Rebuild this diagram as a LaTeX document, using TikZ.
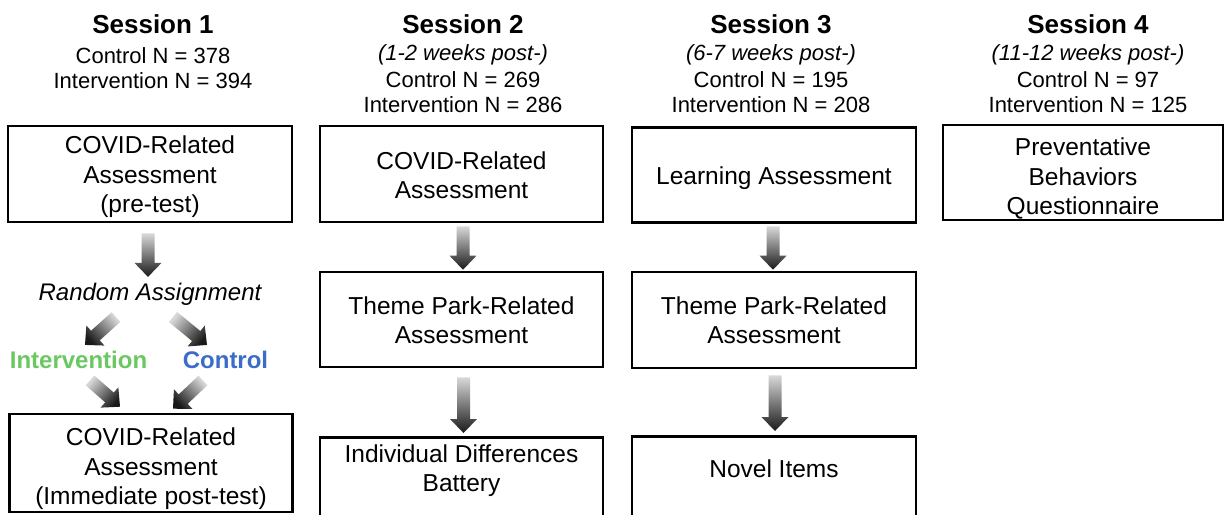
\documentclass[tikz,border=0pt]{standalone}
\usepackage{fontspec}
\setmainfont{Liberation Sans}
\usetikzlibrary{calc}

\definecolor{intgreen}{RGB}{106,200,96}
\definecolor{ctlblue}{RGB}{58,108,200}

% geometry of the shaded block arrows (in pt)
\newcommand\arHead{14}
\newcommand\arShaft{6.5}
\newcommand\arWing{13.5}

% shaded block arrow from tail #1 to tip #2
\newcommand\blockarrow[2]{%
  \path #1; \pgfgetlastxy{\baAx}{\baAy}%
  \path #2; \pgfgetlastxy{\baBx}{\baBy}%
  \pgfmathsetmacro\baXa{\baAx}\pgfmathsetmacro\baYa{\baAy}%
  \pgfmathsetmacro\baXb{\baBx}\pgfmathsetmacro\baYb{\baBy}%
  \pgfmathsetmacro\baDir{atan2(\baYb-\baYa,\baXb-\baXa)}%
  \pgfmathsetmacro\baLen{veclen(\baXb-\baXa,\baYb-\baYa)}%
  \pgfmathsetmacro\baUx{cos(\baDir)}%
  \pgfmathsetmacro\baUy{sin(\baDir)}%
  \pgfmathsetmacro\baXm{\baXa+(\baLen-\arHead)*\baUx}%
  \pgfmathsetmacro\baYm{\baYa+(\baLen-\arHead)*\baUy}%
  \pgfmathsetmacro\baSh{\baDir+90}%
  \shade[arrowshade, shading angle=\baSh]
    ({(\baXa-\arShaft*\baUy)*1pt},{(\baYa+\arShaft*\baUx)*1pt})
    -- ({(\baXm-\arShaft*\baUy)*1pt},{(\baYm+\arShaft*\baUx)*1pt})
    -- ({(\baXm-\arWing*\baUy)*1pt},{(\baYm+\arWing*\baUx)*1pt})
    -- ({\baXb*1pt},{\baYb*1pt})
    -- ({(\baXm+\arWing*\baUy)*1pt},{(\baYm-\arWing*\baUx)*1pt})
    -- ({(\baXm+\arShaft*\baUy)*1pt},{(\baYm-\arShaft*\baUx)*1pt})
    -- ({(\baXa+\arShaft*\baUy)*1pt},{(\baYa-\arShaft*\baUx)*1pt})
    -- cycle;%
}

\tikzset{
  box/.style={draw=black, line width=2.6pt, minimum width=283pt,
    minimum height=96pt, inner sep=0pt},
  boxtext/.style={inner sep=0pt, align=center,
    font=\fontsize{24.5}{29.5}\selectfont},
  sesstitle/.style={anchor=base, inner sep=0pt,
    font=\fontsize{26}{30}\selectfont\bfseries},
  sessinfo/.style={anchor=base, inner sep=0pt,
    font=\fontsize{22}{26}\selectfont},
  sesswhen/.style={anchor=base, inner sep=0pt,
    font=\fontsize{22}{26}\selectfont\itshape},
  grouplabel/.style={anchor=base, inner sep=0pt,
    font=\fontsize{24}{28}\selectfont\bfseries},
  arrowshade/.style={top color=black!15, bottom color=black!90},
}

\begin{document}
\begin{tikzpicture}[x=1pt, y=-1pt]
  \fill[white] (0,0) rectangle (1225,514);
  \useasboundingbox (0,0) rectangle (1225,514);

  % ---- Session 1 ----
  \node[sesstitle] (s1-title) at (153,33) {Session 1};
  \node[sessinfo]  (s1-ctl)   at (153,63) {Control N = 378};
  \node[sessinfo]  (s1-int)   at (153,88) {Intervention N = 394};

  \node[box, minimum width=284pt] (b1a) at (150,174) {};
  \node[boxtext] (b1a-text) at ([yshift=-3pt]b1a.center)
    {COVID-Related\\Assessment\\(pre-test)};
  \node[anchor=base, inner sep=0pt, font=\fontsize{24}{28}\selectfont\itshape]
    (ra) at (150,300) {Random Assignment};
  \node[grouplabel, text=intgreen] (int) at (78.5,368) {Intervention};
  \node[grouplabel, text=ctlblue]  (ctl) at (225.5,368) {Control};
  \node[box, minimum height=98pt] (b1b) at (151,463) {};
  \node[boxtext] (b1b-text) at ([yshift=-6pt]b1b.center)
    {COVID-Related\\Assessment\\(Immediate post-test)};

  \blockarrow{($(b1a.south)+(-2,10)$)}{($(ra.north)+(-2,-5.5)$)}
  \blockarrow{($(ra.base)+(-34,17)$)}{($(int.north)+(6.5,-5.5)$)}
  \blockarrow{($(ra.base)+(23,17)$)}{($(ctl.north)+(-18.5,-5.5)$)}
  \blockarrow{($(int.south)+(11.5,12)$)}{($(b1b.north)+(-31,-6)$)}
  \blockarrow{($(ctl.south)+(-22.5,12)$)}{($(b1b.north)+(22,-4)$)}

  % ---- Session 2 ----
  \node[sesstitle] (s2-title) at (463,33) {Session 2};
  \node[sesswhen]  (s2-when)  at (463,60) {(1-2 weeks post-)};
  \node[sessinfo]  (s2-ctl)   at (463,87) {Control N = 269};
  \node[sessinfo]  (s2-int)   at (463,112) {Intervention N = 286};

  \node[box] (b2a) at (461.5,174) {};
  \node[boxtext] (b2a-text) at ([yshift=-1pt]b2a.center)
    {COVID-Related\\Assessment};
  \node[box, minimum height=95pt] (b2b) at (461.5,319.5) {};
  \node[boxtext] (b2b-text) at ([yshift=-0.5pt]b2b.center)
    {Theme Park-Related\\Assessment};
  \node[box, anchor=north] (b2c) at (461.5,436) {};
  \node[boxtext] (b2c-text) at ([yshift=-34.5pt]b2c.north)
    {Individual Differences\\Battery};

  \blockarrow{($(b2a.south)+(1.5,3)$)}{($(b2b.north)+(1.5,-1)$)}
  \blockarrow{($(b2b.south)+(2,9)$)}{($(b2c.north)+(2,-3)$)}

  % ---- Session 3 ----
  \node[sesstitle] (s3-title) at (771,33) {Session 3};
  \node[sesswhen]  (s3-when)  at (771,60) {(6-7 weeks post-)};
  \node[sessinfo]  (s3-ctl)   at (771,87) {Control N = 195};
  \node[sessinfo]  (s3-int)   at (771,112) {Intervention N = 208};

  \node[box, minimum width=284pt, minimum height=95pt] (b3a) at (774,175) {};
  \node[boxtext] (b3a-text) at ([yshift=-3.5pt]b3a.center)
    {Learning Assessment};
  \node[box, minimum width=284pt] (b3b) at (774,320) {};
  \node[boxtext] (b3b-text) at (b3b.center)
    {Theme Park-Related\\Assessment};
  \node[box, minimum width=284pt, anchor=north] (b3c) at (774,435) {};
  \node[boxtext] (b3c-text) at ([yshift=-34pt]b3c.north) {Novel Items};

  \blockarrow{($(b3a.south)+(-1,2.5)$)}{($(b3b.north)+(-1,-1)$)}
  \blockarrow{($(b3b.south)+(1,6)$)}{($(b3c.north)+(1,-4)$)}

  % ---- Session 4 ----
  \node[sesstitle] (s4-title) at (1088,33) {Session 4};
  \node[sesswhen]  (s4-when)  at (1088,60) {(11-12 weeks post-)};
  \node[sessinfo]  (s4-ctl)   at (1088,87) {Control N = 97};
  \node[sessinfo]  (s4-int)   at (1088,112) {Intervention N = 125};

  \node[box, minimum width=280pt, minimum height=95pt] (b4) at (1083,172.5) {};
  \node[boxtext] (b4-text) at ([yshift=-6pt]b4.center)
    {Preventative\\Behaviors\\Questionnaire};
\end{tikzpicture}
\end{document}
